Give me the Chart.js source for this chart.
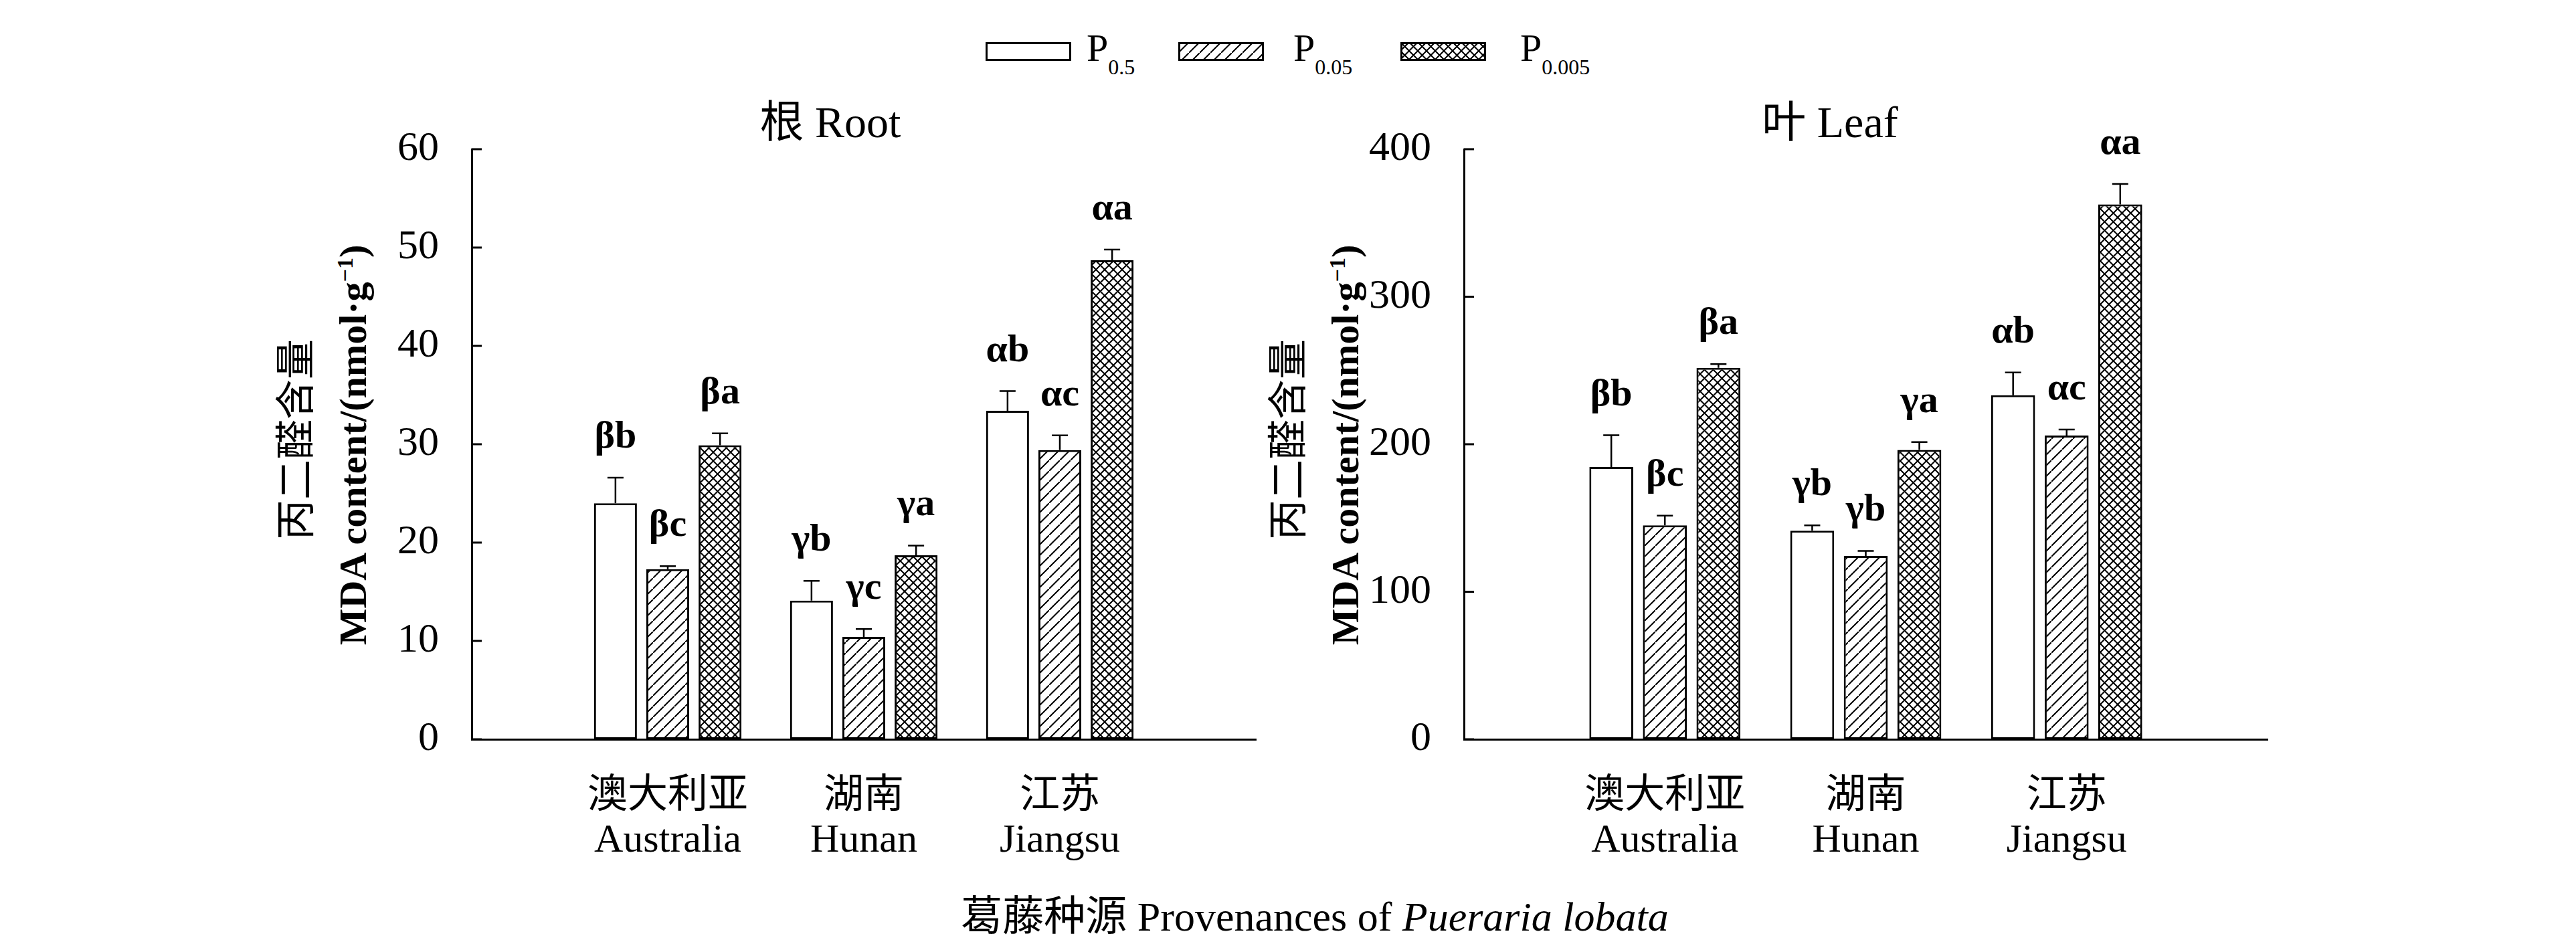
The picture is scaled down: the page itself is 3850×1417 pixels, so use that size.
<!DOCTYPE html>
<html>
<head>
<meta charset="utf-8">
<script src="https://cdn.jsdelivr.net/npm/chart.js@4.4.1/dist/chart.umd.min.js"></script>
<style>
  body { margin: 0; background: #fff; width: 3850px; height: 1417px; position: relative; overflow: hidden;
    font-family: "Liberation Serif", "Noto Sans CJK SC", serif; color: #000; }
  canvas { position: absolute; top: 0; }
  .txt { position: absolute; white-space: nowrap; line-height: 1; }
  .ytitle { position: absolute; white-space: nowrap; line-height: 1; transform: translate(-50%, -50%) rotate(-90deg); }
  .sw { position: absolute; top: 63px; }
</style>
</head>
<body>

<div class="txt" style="left:1241px; top:150px; font-size:66px; transform:translateX(-50%);">根 Root</div>
<div class="txt" style="left:2735px; top:150px; font-size:66px; transform:translateX(-50%);">叶 Leaf</div>

<div class="ytitle" style="left:443px; top:657px; font-size:60px;">丙二醛含量</div>
<div class="ytitle" style="left:528px; top:665px; font-size:58px; font-weight:bold;">MDA content/(nmol·g<sup style="font-size:34px;">−1</sup>)</div>
<div class="ytitle" style="left:1926px; top:657px; font-size:60px;">丙二醛含量</div>
<div class="ytitle" style="left:2011px; top:665px; font-size:58px; font-weight:bold;">MDA content/(nmol·g<sup style="font-size:34px;">−1</sup>)</div>

<div class="txt" style="left:1965px; top:1339px; font-size:62px; transform:translateX(-50%);">葛藤种源 Provenances of <i>Pueraria lobata</i></div>

<div id="legend"></div>

<canvas id="rootChart" width="1930" height="1417" style="left:0; width:1930px; height:1417px;"></canvas>
<canvas id="leafChart" width="1920" height="1417" style="left:1930px; width:1920px; height:1417px;"></canvas>

<script>
// Provenances (two-line tick labels)
var categories = [["澳大利亚", "Australia"], ["湖南", "Hunan"], ["江苏", "Jiangsu"]];
var seriesSubs = ["0.5", "0.05", "0.005"];

// Root MDA content, nmol/g
var rootP05 = [24.0, 14.1, 33.4];
var rootP005 = [17.3, 10.4, 29.4];
var rootP0005 = [29.9, 18.7, 48.7];
var rootErrP05 = [2.6, 2.0, 2.0];
var rootErrP005 = [0.3, 0.8, 1.5];
var rootErrP0005 = [1.2, 1.0, 1.1];
var rootSigP05 = ["βb", "γb", "αb"];
var rootSigP005 = ["βc", "γc", "αc"];
var rootSigP0005 = ["βa", "γa", "αa"];
var rootTicks = [0, 10, 20, 30, 40, 50, 60];

// Leaf MDA content, nmol/g
var leafP05 = [184.6, 141.4, 233.2];
var leafP005 = [145.0, 124.3, 205.9];
var leafP0005 = [251.8, 196.2, 362.6];
var leafErrP05 = [21.5, 3.6, 15.4];
var leafErrP005 = [6.6, 3.4, 4.1];
var leafErrP0005 = [2.5, 5.3, 13.8];
var leafSigP05 = ["βb", "γb", "αb"];
var leafSigP005 = ["βc", "γb", "αc"];
var leafSigP0005 = ["βa", "γa", "αa"];
var leafTicks = [0, 100, 200, 300, 400];

var serif = '"Liberation Serif", "Noto Sans CJK SC", serif';

// Fill patterns: plain, single hatch, cross hatch
function makePattern(kind) {
  if (kind === "plain") return "#fff";
  var s = kind === "hatch" ? 16 : 13;
  var c = document.createElement("canvas");
  c.width = s; c.height = s;
  var g = c.getContext("2d");
  g.fillStyle = "#fff";
  g.fillRect(0, 0, s, s);
  g.strokeStyle = "#000";
  g.lineWidth = 2;
  g.beginPath();
  g.moveTo(-2, s + 2); g.lineTo(s + 2, -2);
  if (kind === "cross") {
    g.moveTo(-2, -2); g.lineTo(s + 2, s + 2);
  }
  g.stroke();
  return g.createPattern(c, "repeat");
}
var fills = [makePattern("plain"), makePattern("hatch"), makePattern("cross")];

// Legend with subscripted labels
var legendLeft = [1473, 1761, 2093];
var legendText = [1624, 1933, 2272];
var legendBox = document.getElementById("legend");
seriesSubs.forEach(function (sub, i) {
  var sw = document.createElement("canvas");
  sw.className = "sw";
  sw.width = 128; sw.height = 28;
  sw.style.left = legendLeft[i] + "px";
  sw.style.width = "128px"; sw.style.height = "28px";
  var g = sw.getContext("2d");
  g.fillStyle = fills[i];
  g.fillRect(0, 0, 128, 28);
  g.lineWidth = 3;
  g.strokeStyle = "#000";
  g.strokeRect(1.5, 1.5, 125, 25);
  legendBox.appendChild(sw);

  var t = document.createElement("div");
  t.className = "txt";
  t.style.left = legendText[i] + "px";
  t.style.top = "43px";
  t.style.fontSize = "58px";
  t.innerHTML = 'P<span style="font-size:32px; position:relative; top:20px;">' + sub + "</span>";
  legendBox.appendChild(t);
});

// Error bars, significance letters and inward y ticks
var panelExtras = {
  id: "panelExtras",
  afterDatasetsDraw: function (chart) {
    var ctx = chart.ctx, y = chart.scales.y;
    ctx.save();
    ctx.strokeStyle = "#000";
    ctx.fillStyle = "#000";
    ctx.lineWidth = 2.5;
    ctx.font = "bold 58px " + serif;
    ctx.textAlign = "center";
    ctx.textBaseline = "alphabetic";
    chart.data.datasets.forEach(function (ds, di) {
      var meta = chart.getDatasetMeta(di);
      meta.data.forEach(function (bar, i) {
        var v = ds.data[i];
        if (v == null) return;
        var top = y.getPixelForValue(v + ds.errors[i]);
        ctx.beginPath();
        ctx.moveTo(bar.x, bar.y);
        ctx.lineTo(bar.x, top);
        ctx.moveTo(bar.x - 12, top);
        ctx.lineTo(bar.x + 12, top);
        ctx.stroke();
        ctx.fillText(ds.letters[i], bar.x, top - 45);
      });
    });
    ctx.restore();
  },
  afterDraw: function (chart) {
    var ctx = chart.ctx, y = chart.scales.y, left = chart.chartArea.left;
    ctx.save();
    ctx.strokeStyle = "#000";
    ctx.lineWidth = 3;
    y.ticks.forEach(function (t, i) {
      var py = y.getPixelForTick(i);
      ctx.beginPath();
      ctx.moveTo(left, py);
      ctx.lineTo(left + 15, py);
      ctx.stroke();
    });
    ctx.restore();
  }
};

function padded(arr) {
  return [null].concat(arr, [null]);
}

function makePanel(id, yWidth, rightPad, values, errors, letters, ticks) {
  var datasets = values.map(function (vals, k) {
    return {
      label: "P" + seriesSubs[k],
      data: padded(vals),
      errors: padded(errors[k]),
      letters: padded(letters[k]),
      backgroundColor: fills[k],
      borderColor: "#000",
      borderWidth: 3,
      borderSkipped: false,
      categoryPercentage: 0.8,
      barPercentage: 0.82
    };
  });
  return new Chart(document.getElementById(id), {
    type: "bar",
    data: { labels: [""].concat(categories, [""]), datasets: datasets },
    options: {
      responsive: false,
      animation: false,
      devicePixelRatio: 1,
      events: [],
      layout: { padding: { top: 223, right: rightPad, bottom: 0, left: 0 } },
      plugins: { legend: { display: false }, tooltip: { enabled: false } },
      scales: {
        x: {
          offset: false,
          grid: { display: false, drawTicks: false },
          border: { display: true, color: "#000", width: 3 },
          ticks: {
            color: "#000", padding: 53, autoSkip: false, maxRotation: 0,
            font: { family: serif, size: 60, lineHeight: 1.1 }
          },
          afterFit: function (scale) { scale.height = 312; }
        },
        y: {
          min: ticks[0],
          max: ticks[ticks.length - 1],
          grid: { display: false, drawTicks: false },
          border: { display: true, color: "#000", width: 3 },
          ticks: {
            stepSize: ticks[1] - ticks[0], color: "#000", padding: 49,
            font: { family: serif, size: 62 }
          },
          afterFit: function (scale) { scale.width = yWidth; }
        }
      }
    },
    plugins: [panelExtras]
  });
}

makePanel("rootChart", 705, 24,
  [rootP05, rootP005, rootP0005],
  [rootErrP05, rootErrP005, rootErrP0005],
  [rootSigP05, rootSigP005, rootSigP0005],
  rootTicks);

makePanel("leafChart", 258, 461,
  [leafP05, leafP005, leafP0005],
  [leafErrP05, leafErrP005, leafErrP0005],
  [leafSigP05, leafSigP005, leafSigP0005],
  leafTicks);
</script>
</body>
</html>
